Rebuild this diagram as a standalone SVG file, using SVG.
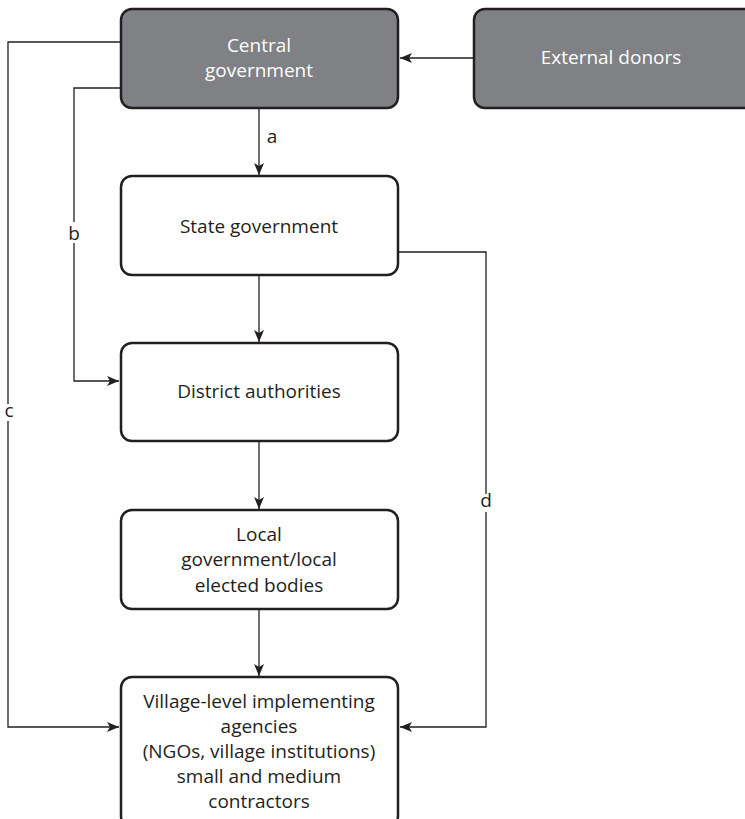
<svg xmlns="http://www.w3.org/2000/svg" width="745" height="819" viewBox="0 0 745 819">
  <style>
    .box { fill: #ffffff; stroke: #231f20; stroke-width: 2.5; }
    .dark { fill: #808184; }
    .lbl { font-family: "Open Sans", "Noto Sans", "Liberation Sans", sans-serif; font-size: 19px; fill: #231f20; text-anchor: middle; }
    .lbl.light { fill: #ffffff; }
    .wire { fill: none; stroke: #231f20; stroke-width: 1.3; }
    .tag { font-family: "Open Sans", "Noto Sans", "Liberation Sans", sans-serif; font-size: 19px; fill: #231f20; text-anchor: middle; }
  </style>
  <defs>
    <marker id="arr" viewBox="0 0 12 10" refX="12" refY="5" markerWidth="12" markerHeight="10" markerUnits="userSpaceOnUse" orient="auto">
      <path d="M0,0 L12,5 L0,10 L3,5 Z" fill="#231f20"/>
    </marker>
  </defs>

  <rect width="745" height="819" fill="#ffffff"/>

  <g id="connectors">
    <!-- a: central to state -->
    <line class="wire" x1="259" y1="108" x2="259" y2="175" marker-end="url(#arr)"/>
    <!-- external donors to central -->
    <line class="wire" x1="474" y1="58" x2="400" y2="58" marker-end="url(#arr)"/>
    <!-- state to district -->
    <line class="wire" x1="259" y1="275" x2="259" y2="342" marker-end="url(#arr)"/>
    <!-- district to local -->
    <line class="wire" x1="259" y1="441" x2="259" y2="509" marker-end="url(#arr)"/>
    <!-- local to village -->
    <line class="wire" x1="259" y1="609" x2="259" y2="676" marker-end="url(#arr)"/>
    <!-- b: central to district -->
    <path class="wire" d="M121,88 H74 V222 M74,243 V381 H119" marker-end="url(#arr)"/>
    <!-- c: central to village -->
    <path class="wire" d="M121,42 H8 V404 M8,421 V727 H119" marker-end="url(#arr)"/>
    <!-- d: state to village -->
    <path class="wire" d="M398,252 H486 V494 M486,512 V727 H400" marker-end="url(#arr)"/>
    <text class="tag" x="272" y="143">a</text>
    <text class="tag" x="74" y="240">b</text>
    <text class="tag" x="9" y="417">c</text>
    <text class="tag" x="486" y="507">d</text>
  </g>

  <g id="central">
    <rect class="box dark" x="121" y="9" width="277" height="99" rx="11"/>
    <text class="lbl light" x="259" y="52">Central</text>
    <text class="lbl light" x="259" y="77">government</text>
  </g>

  <g id="donors">
    <rect class="box dark" x="474" y="9" width="290" height="99" rx="11"/>
    <text class="lbl light" x="611" y="64">External donors</text>
  </g>

  <g id="state">
    <rect class="box" x="121" y="176" width="277" height="99" rx="11"/>
    <text class="lbl" x="259" y="233">State government</text>
  </g>

  <g id="district">
    <rect class="box" x="121" y="343" width="277" height="98" rx="11"/>
    <text class="lbl" x="259" y="398">District authorities</text>
  </g>

  <g id="local">
    <rect class="box" x="121" y="510" width="277" height="99" rx="11"/>
    <text class="lbl" x="259" y="541">Local</text>
    <text class="lbl" x="259" y="566">government/local</text>
    <text class="lbl" x="259" y="592">elected bodies</text>
  </g>

  <g id="village">
    <rect class="box" x="121" y="677" width="277" height="150" rx="11"/>
    <text class="lbl" x="259" y="708">Village-level implementing</text>
    <text class="lbl" x="259" y="733">agencies</text>
    <text class="lbl" x="259" y="758">(NGOs, village institutions)</text>
    <text class="lbl" x="259" y="783">small and medium</text>
    <text class="lbl" x="259" y="808">contractors</text>
  </g>
</svg>
